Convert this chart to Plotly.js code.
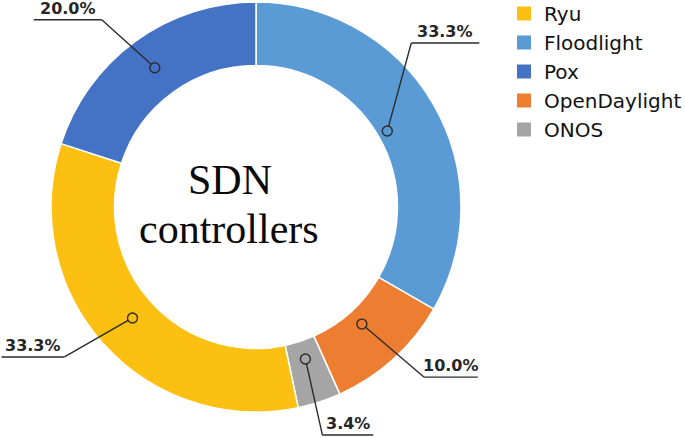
<!DOCTYPE html>
<html>
<head>
<meta charset="utf-8">
<script src="https://cdn.plot.ly/plotly-3.0.1.min.js"></script>
<style>html,body{margin:0;padding:0;background:#fff}#chart{width:685px;height:438px}</style>
</head>
<body>
<div id="chart"></div>
<script>
// ---- data ----
const sliceLabels = ['Floodlight', 'OpenDaylight', 'ONOS', 'Ryu', 'Pox'];
const sliceValues = [33.3, 10.0, 3.4, 33.3, 20.0];
const legendOrder = ['Ryu', 'Floodlight', 'Pox', 'OpenDaylight', 'ONOS'];
const centerLines = ['SDN', 'controllers'];

// ---- style ----
const colorMap = {
  'Ryu': '#FBC012',
  'Floodlight': '#5B9BD5',
  'Pox': '#4472C4',
  'OpenDaylight': '#ED7D31',
  'ONOS': '#A5A5A5'
};
// label placement (style): radius fraction of the marker circle, elbow offset (px), underline length (px, sign = direction)
const labelStyle = {
  'Floodlight':   {rf: 0.74, ex: 24,  ey: -88, ul: 68},
  'OpenDaylight': {rf: 0.77, ex: 62,  ey: 53,  ul: 54},
  'ONOS':         {rf: 0.78, ex: 17,  ey: 76,  ul: 51},
  'Ryu':          {rf: 0.81, ex: -68, ey: 39,  ul: -63},
  'Pox':          {rf: 0.84, ex: -53, ey: -48, ul: -68}
};

const W = 685, H = 438;
const cxPx = 256, cyPx = 207, Rpx = 205;
const domain = {
  x: [(cxPx - Rpx) / W, (cxPx + Rpx) / W],
  y: [1 - (cyPx + Rpx) / H, 1 - (cyPx - Rpx) / H]
};

const pie = {
  type: 'pie',
  labels: sliceLabels,
  values: sliceValues,
  sort: false,
  direction: 'clockwise',
  rotation: 0,
  hole: 0.69,
  textinfo: 'none',
  hoverinfo: 'none',
  showlegend: false,
  marker: {colors: sliceLabels.map(l => colorMap[l]), line: {color: '#ffffff', width: 1.5}},
  domain: domain
};

const legendTraces = legendOrder.map((name, i) => ({
  type: 'scatter', mode: 'markers', x: [null], y: [null], name: name,
  legendgroup: 'g' + i,
  marker: {symbol: 'square', size: 14, color: colorMap[name], line: {width: 0}},
  hoverinfo: 'none'
}));

const px2x = p => p / W;
const px2y = p => 1 - p / H;

const total = sliceValues.reduce((a, b) => a + b, 0);
const shapes = [];
const annotations = [];
let cum = 0;
sliceValues.forEach((v, i) => {
  const name = sliceLabels[i];
  const st = labelStyle[name];
  const mid = (cum + v / 2) / total;
  cum += v;
  const th = 2 * Math.PI * mid;
  const r = Rpx * st.rf;
  const ax = cxPx + r * Math.sin(th);
  const ay = cyPx - r * Math.cos(th);
  const exPx = ax + st.ex, eyPx = ay + st.ey;
  const len = Math.hypot(st.ex, st.ey);
  const cr = 5;
  const sx = ax + st.ex / len * cr, sy = ay + st.ey / len * cr;
  shapes.push({type: 'line', xref: 'paper', yref: 'paper',
    x0: px2x(sx), y0: px2y(sy), x1: px2x(exPx), y1: px2y(eyPx),
    line: {color: '#2b2b2b', width: 1.4}});
  shapes.push({type: 'line', xref: 'paper', yref: 'paper',
    x0: px2x(exPx), y0: px2y(eyPx), x1: px2x(exPx + st.ul), y1: px2y(eyPx),
    line: {color: '#2b2b2b', width: 1.4}});
  shapes.push({type: 'circle', xref: 'paper', yref: 'paper',
    xsizemode: 'pixel', ysizemode: 'pixel',
    xanchor: px2x(ax), yanchor: px2y(ay),
    x0: -cr, x1: cr, y0: -cr, y1: cr,
    line: {color: '#2b2b2b', width: 1.4}, fillcolor: 'rgba(0,0,0,0)'});
  annotations.push({xref: 'paper', yref: 'paper',
    x: px2x(exPx + st.ul / 2), y: px2y(eyPx), xanchor: 'center', yanchor: 'bottom',
    showarrow: false, yshift: 0,
    text: (v).toFixed(1) + '%',
    font: {family: 'DejaVu Sans', size: 16, color: '#262626', weight: 'bold'}});
});

annotations.push({xref: 'paper', yref: 'paper', x: px2x(230), y: px2y(180),
  xanchor: 'center', yanchor: 'middle', showarrow: false, text: centerLines[0],
  font: {family: 'Liberation Serif', size: 42, color: '#0a0a0a'}});
annotations.push({xref: 'paper', yref: 'paper', x: px2x(229), y: px2y(229),
  xanchor: 'center', yanchor: 'middle', showarrow: false, text: centerLines[1],
  font: {family: 'Liberation Serif', size: 42, color: '#0a0a0a'}});

const layout = {
  width: W, height: H,
  margin: {l: 0, r: 0, t: 0, b: 0, autoexpand: false},
  paper_bgcolor: '#ffffff', plot_bgcolor: '#ffffff',
  xaxis: {visible: false, range: [0, 1]},
  yaxis: {visible: false, range: [0, 1]},
  showlegend: true,
  legend: {x: 504 / W, xanchor: 'left', y: 1 + 6 / H, yanchor: 'top',
    font: {family: 'DejaVu Sans', size: 20, color: '#111111'},
    tracegroupgap: 0, bgcolor: 'rgba(0,0,0,0)'},
  shapes: shapes,
  annotations: annotations
};

Plotly.newPlot('chart', [pie].concat(legendTraces), layout, {displayModeBar: false, staticPlot: true});
</script>
</body>
</html>
